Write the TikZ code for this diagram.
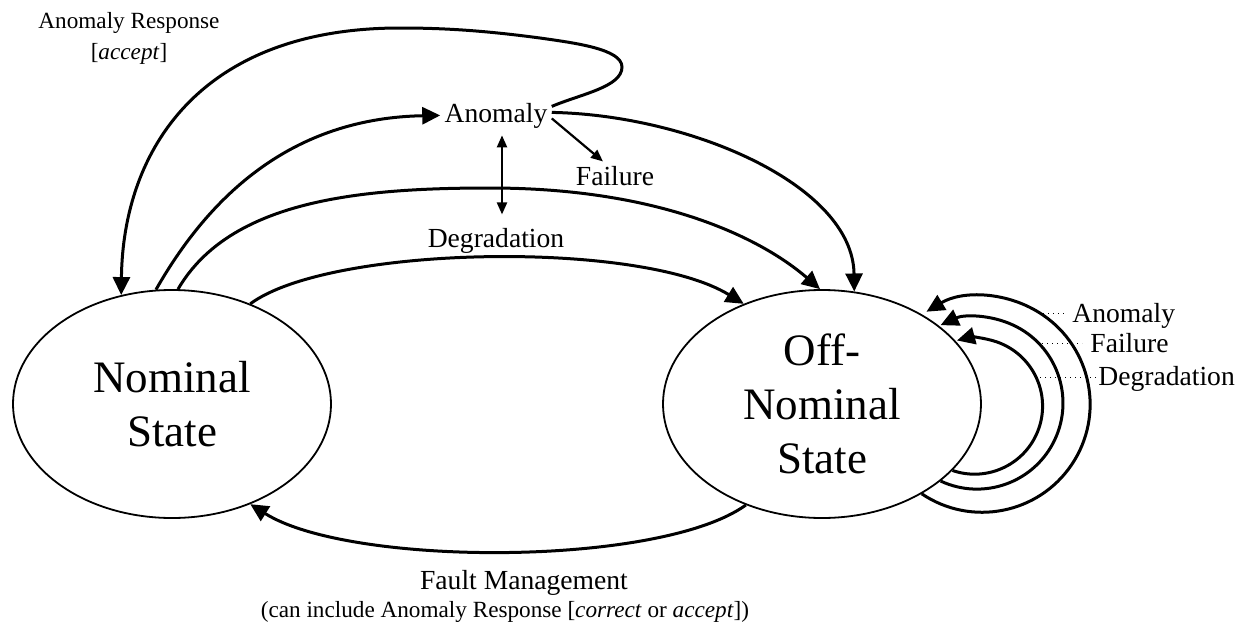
\documentclass[tikz,border=0pt]{standalone}
\usepackage{fontspec}
\setmainfont{Liberation Serif}
\usetikzlibrary{arrows.meta,shapes.geometric}
\begin{document}
\begin{tikzpicture}[x=0.5pt,y=0.5pt,
  state/.style={draw, line width=0.9pt, ellipse, minimum width=159pt, minimum height=114pt, inner sep=0pt, align=center, font=\fontsize{22.5}{27}\selectfont},
  lbl/.style={inner sep=2pt, font=\fontsize{13.8}{16}\selectfont},
  small/.style={inner sep=0pt, font=\fontsize{11.6}{15.5}\selectfont},
  conn/.style={line width=1.5pt, -{Triangle[length=9pt,width=8.5pt]}},
  thinarr/.style={line width=1.1pt, -{Triangle[length=6pt,width=5pt]}},
  dblarr/.style={line width=1.1pt, {Triangle[length=6pt,width=5pt]}-{Triangle[length=6pt,width=5pt]}},
  lead/.style={line width=0.5pt, dotted},
]
\useasboundingbox (0,0) rectangle (1250,-632);

% states
\node[state] (nom) at (172,-404) {Nominal\\State};
\node[state] (off) at (822,-404) {Off-\\Nominal\\State};

% labels
\node[lbl, anchor=base] (anom) at (496,-122) {Anomaly};
\node[lbl, anchor=base] (fail) at (615,-185) {Failure};
\node[lbl, anchor=base] (deg) at (496,-247) {Degradation};
\node[small, align=center] (arl) at (129,-38.5) {Anomaly Response\\{[}\textit{accept}{]}};
\node[lbl, anchor=base, inner sep=0pt] (fm1) at (524,-589) {Fault Management};
\node[small, anchor=base] (fm2) at (505,-617) {(can include Anomaly Response [\textit{correct} or \textit{accept}])};

\node[lbl, anchor=base west, inner sep=1pt] (lA) at (1070,-322) {Anomaly};
\node[lbl, anchor=base west, inner sep=1pt] (lF) at (1088,-352) {Failure};
\node[lbl, anchor=base west, inner sep=1pt] (lD) at (1096,-385) {Degradation};

% anomaly response loop
\draw[conn] ([yshift=4.5pt]anom.east) .. controls (581,-94) and (622,-87) .. (622,-67)
  .. controls (622,-49) and (575,-43) .. (540,-38)
  .. controls (480,-30) and (440,-28) .. (400,-28)
  .. controls (200,-28) and (123,-150) .. (nom.115);

% nominal -> anomaly
\draw[conn] (nom.98) .. controls (215,-186) and (300,-118) .. (anom.west);
% nominal -> off (failure)
\draw[conn] (nom.87) .. controls (230,-200) and (360,-188) .. (490,-188)
  .. controls (660,-188) and (761,-238) .. (off.91);
% anomaly -> off
\draw[conn] ([yshift=1.5pt]anom.east) .. controls (690,-115) and (853,-185) .. (off.74);
% anomaly -> failure
\draw[thinarr] ([yshift=-1.5pt]anom.east) -- ([xshift=-6pt]fail.north);
% anomaly <-> degradation
\draw[dblarr, shorten <=1.5pt, shorten >=4.5pt] ([xshift=3pt]anom.south) -- ([xshift=3pt]deg.north);
% nominal -> off (degradation)
\draw[conn] (nom.52) .. controls (330,-245) and (640,-240) .. (off.128);
% fault management
\draw[conn] (off.-127) .. controls (660,-567) and (350,-567) .. (nom.-52);

% self loops
\draw[conn] (off.-42) arc[start angle=-124, end angle=121, radius=54pt];
\draw[conn] (off.-33) arc[start angle=-115, end angle=115, radius=43pt];
\draw[conn] (off.-27) arc[start angle=-109, end angle=105, radius=34pt];

% leaders
\coordinate (pA) at (1038,-313);
\coordinate (pF) at (1037,-343);
\coordinate (pD) at (1035,-377);
\draw[lead, shorten >=2.5pt] (pA) -- (pA -| lA.west);
\draw[lead, shorten >=3pt] (pF) -- (pF -| lF.west);
\draw[lead] (pD) -- (pD -| lD.west);
\end{tikzpicture}
\end{document}
